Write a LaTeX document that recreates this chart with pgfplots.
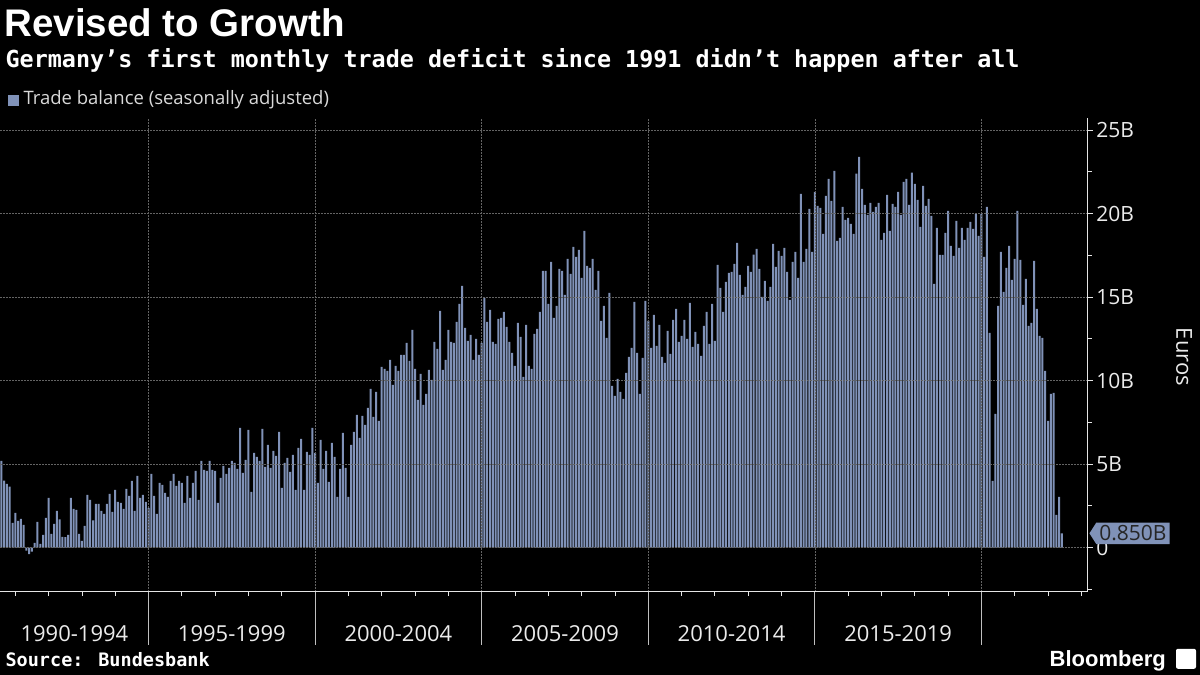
\documentclass[border=0pt]{standalone}
\usepackage{fontspec}
\setmainfont{Open Sans}
\newfontfamily\monofam{DejaVu Sans Mono}
\newfontfamily\blfont{Liberation Sans}
\usepackage{pgfplots}
\pgfplotsset{compat=1.18}
\usepackage{pgfplotstable}
\usetikzlibrary{shapes.symbols}
\definecolor{barcol}{RGB}{128,146,184}
\definecolor{gridcol}{RGB}{100,100,100}

\pgfplotstableread[row sep=\\]{
v\\
5.19\\ 4.0\\ 3.81\\ 3.65\\ 1.48\\ 2.08\\ 1.6\\ 1.72\\ 1.36\\ -0.18\\ -0.4\\ -0.24\\ 0.28\\ 1.54\\ 0.22\\ 0.76\\ 1.78\\ 2.97\\ 0.82\\ 1.42\\ 2.2\\ 1.68\\ 0.64\\ 0.62\\ 0.76\\ 2.97\\ 2.32\\ 2.26\\ 0.82\\ 0.4\\ 1.3\\ 3.15\\ 2.85\\ 1.62\\ 2.61\\ 2.61\\
2.2\\ 2.02\\ 2.61\\ 3.21\\ 2.14\\ 3.45\\ 2.73\\ 2.67\\ 2.32\\ 3.51\\ 3.09\\ 3.99\\ 2.2\\ 4.29\\ 2.97\\ 3.15\\ 2.73\\ 2.38\\ 4.41\\ 3.09\\ 2.02\\ 3.87\\ 3.75\\ 3.27\\ 3.03\\ 3.99\\ 4.41\\ 3.69\\ 3.99\\ 3.87\\ 2.67\\ 4.29\\ 2.97\\ 3.87\\ 4.59\\ 2.85\\
5.19\\ 4.65\\ 4.59\\ 5.19\\ 4.65\\ 4.59\\ 2.67\\ 4.17\\ 4.89\\ 4.41\\ 4.77\\ 5.19\\ 5.07\\ 4.71\\ 7.17\\ 4.47\\ 5.25\\ 7.05\\ 3.33\\ 5.67\\ 5.43\\ 5.19\\ 7.11\\ 4.83\\ 6.15\\ 4.77\\ 5.79\\ 5.49\\ 6.93\\ 3.57\\ 5.07\\ 5.37\\ 4.53\\ 5.55\\ 3.45\\ 5.97\\
6.51\\ 3.45\\ 5.73\\ 5.55\\ 7.17\\ 5.67\\ 3.87\\ 6.45\\ 4.71\\ 5.79\\ 3.93\\ 6.27\\ 5.43\\ 3.03\\ 4.71\\ 6.87\\ 4.77\\ 3.03\\ 6.15\\ 6.93\\ 7.94\\ 6.57\\ 7.88\\ 7.35\\ 8.36\\ 9.5\\ 7.82\\ 9.32\\ 7.58\\ 10.82\\ 10.7\\ 10.58\\ 11.24\\ 9.74\\ 10.88\\ 10.58\\
11.54\\ 11.54\\ 12.26\\ 11.18\\ 13.03\\ 10.7\\ 8.84\\ 10.4\\ 8.54\\ 9.2\\ 10.64\\ 10.04\\ 12.32\\ 11.9\\ 14.17\\ 10.64\\ 11.24\\ 13.03\\ 12.32\\ 12.26\\ 13.51\\ 14.59\\ 15.67\\ 13.15\\ 12.38\\ 12.73\\ 11.24\\ 12.5\\ 11.54\\ 12.26\\ 14.95\\ 13.51\\ 14.23\\ 12.32\\ 12.2\\ 13.69\\
13.75\\ 14.11\\ 13.21\\ 12.32\\ 11.66\\ 10.88\\ 13.45\\ 12.61\\ 10.22\\ 13.33\\ 10.88\\ 10.7\\ 12.79\\ 13.09\\ 14.11\\ 16.57\\ 16.57\\ 14.59\\ 17.11\\ 13.75\\ 14.47\\ 16.69\\ 16.57\\ 15.13\\ 17.29\\ 16.39\\ 18.0\\ 17.41\\ 17.82\\ 16.15\\ 18.96\\ 16.87\\ 16.75\\ 17.29\\ 15.43\\ 16.57\\
13.57\\ 14.47\\ 12.55\\ 15.25\\ 9.68\\ 9.08\\ 10.1\\ 9.32\\ 8.9\\ 10.46\\ 11.42\\ 11.96\\ 14.71\\ 11.66\\ 9.2\\ 11.36\\ 14.77\\ 13.57\\ 11.96\\ 13.93\\ 12.08\\ 13.33\\ 11.42\\ 11.06\\ 12.97\\ 11.6\\ 13.63\\ 14.29\\ 12.32\\ 12.67\\ 13.63\\ 12.5\\ 14.65\\ 12.02\\ 12.91\\ 12.2\\
11.48\\ 13.27\\ 14.11\\ 12.2\\ 14.59\\ 12.38\\ 16.93\\ 15.55\\ 14.11\\ 15.91\\ 16.45\\ 16.51\\ 16.99\\ 18.24\\ 16.33\\ 15.13\\ 15.61\\ 16.87\\ 16.51\\ 17.53\\ 17.88\\ 16.69\\ 15.01\\ 15.97\\ 14.77\\ 15.61\\ 18.18\\ 16.81\\ 17.76\\ 17.46\\ 17.94\\ 16.51\\ 14.83\\ 17.11\\ 17.7\\ 16.15\\
21.18\\ 17.1\\ 17.88\\ 20.28\\ 17.7\\ 21.3\\ 20.46\\ 20.34\\ 18.78\\ 21.06\\ 22.08\\ 20.76\\ 22.55\\ 18.36\\ 18.54\\ 20.4\\ 19.62\\ 19.74\\ 19.38\\ 18.78\\ 22.38\\ 23.39\\ 21.48\\ 20.52\\ 19.92\\ 20.64\\ 20.1\\ 20.4\\ 20.64\\ 18.42\\ 18.84\\ 21.12\\ 18.96\\ 20.58\\ 20.4\\ 21.3\\
19.92\\ 21.9\\ 22.08\\ 20.52\\ 22.44\\ 21.78\\ 20.82\\ 19.2\\ 21.66\\ 20.46\\ 20.88\\ 19.86\\ 15.79\\ 19.14\\ 17.52\\ 17.52\\ 18.84\\ 20.16\\ 18.06\\ 17.47\\ 19.56\\ 17.94\\ 19.14\\ 18.42\\ 19.14\\ 19.5\\ 19.08\\ 19.98\\ 18.66\\ 19.98\\ 17.4\\ 20.4\\ 12.85\\ 3.99\\ 8.0\\ 14.47\\
17.7\\ 15.31\\ 16.75\\ 18.06\\ 16.03\\ 17.29\\ 20.16\\ 17.23\\ 14.53\\ 16.09\\ 13.27\\ 13.45\\ 17.17\\ 14.29\\ 12.67\\ 12.55\\ 10.58\\ 7.58\\ 9.2\\ 9.26\\ 1.96\\ 3.03\\ 0.85\\
}\tradedata

\begin{document}
\begin{tikzpicture}[x=1pt,y=1pt]
\fill[black] (0,0) rectangle (1200,675);
\begin{axis}[
  at={(0pt,83pt)}, anchor=south west,
  scale only axis, width=1087.7pt, height=474pt,
  xmin=-0.36, xmax=391.3, ymin=-2.65, ymax=25.72,
  axis x line*=bottom, axis y line*=right,
  axis line style={white!90!black, line width=0.8pt},
  xtick={53,113,173,233,293,353}, xticklabels={},
  minor xtick={5,17,...,389},
  ytick={0,5,...,25}, yticklabels={0,5B,10B,15B,20B,25B},
  minor ytick={-2.5,2.5,7.5,12.5,17.5,22.5},
  tick align=outside, major tick length=5pt, minor tick length=4pt,
  tick style={white!90!black, line width=0.8pt},
  xmajorgrids, ymajorgrids,
  major grid style={gridcol, dash pattern=on 1.5pt off 1.5pt, line width=0.6pt},
  yticklabel style={font=\fontsize{21}{21}\selectfont, text=white!92!black},
  axis on top,
]
\addplot[ybar, bar width=2pt, bar shift=0pt, fill=barcol, draw=none] table[x expr=\coordindex, y=v] {\tradedata};
\coordinate (flagpt) at (axis cs:391.3,0.85);
\coordinate (t1) at (axis cs:53,-2.65);
\coordinate (t2) at (axis cs:113,-2.65);
\coordinate (t3) at (axis cs:173,-2.65);
\coordinate (t4) at (axis cs:233,-2.65);
\coordinate (t5) at (axis cs:293,-2.65);
\coordinate (t6) at (axis cs:353,-2.65);
\coordinate (l1) at (axis cs:26.3,-2.65);
\coordinate (l2) at (axis cs:83,-2.65);
\coordinate (l3) at (axis cs:143,-2.65);
\coordinate (l4) at (axis cs:203,-2.65);
\coordinate (l5) at (axis cs:263,-2.65);
\coordinate (l6) at (axis cs:323,-2.65);
\end{axis}
\foreach \t in {t1,t2,t3,t4,t5,t6} {\draw[white!75!black, line width=0.8pt] (\t) -- ++(0,-53);}
\foreach \l/\txt in {l1/1990-1994,l2/1995-1999,l3/2000-2004,l4/2005-2009,l5/2010-2014,l6/2015-2019}
  {\node[font=\fontsize{22}{22}\selectfont, text=white!92!black, anchor=center] at ([yshift=-42pt]\l) {\txt};}
\node[signal, signal to=west, signal pointer angle=115, fill=barcol, text=black!85, font=\fontsize{21}{21}\selectfont, inner xsep=3pt, inner ysep=3pt, anchor=west] at ([xshift=1.5pt]flagpt) {0.850B};
\node[rotate=-90, font=\fontsize{22}{22}\selectfont, text=white!92!black] at (1184,318) {Euros};
% titles
\node[anchor=base west, inner sep=0, text=white, font=\blfont\bfseries\fontsize{38.5}{38.5}\selectfont] at (4,638) {Revised to Growth};
\node[anchor=base west, inner sep=0, text=white, font=\monofam\bfseries\fontsize{23.4}{23.4}\selectfont] at (5,607) {Germany’s first monthly trade deficit since 1991 didn’t happen after all};
\fill[barcol] (8,569) rectangle (19,580);
\node[anchor=west, inner sep=0, text=white!85!black, font=\fontsize{18.5}{18.5}\selectfont] at (23,575) {Trade balance (seasonally adjusted)};
\node[anchor=base west, inner sep=0, text=white, font=\monofam\bfseries\fontsize{18.5}{18.5}\selectfont] at (5,8) {Source: Bundesbank};
\node[anchor=base east, inner sep=0, text=white, font=\blfont\bfseries\fontsize{22}{22}\selectfont] at (1166,8) {Bloomberg};
\fill[white, rounded corners=2pt] (1176,6) rectangle (1196,26);
\end{tikzpicture}
\end{document}
